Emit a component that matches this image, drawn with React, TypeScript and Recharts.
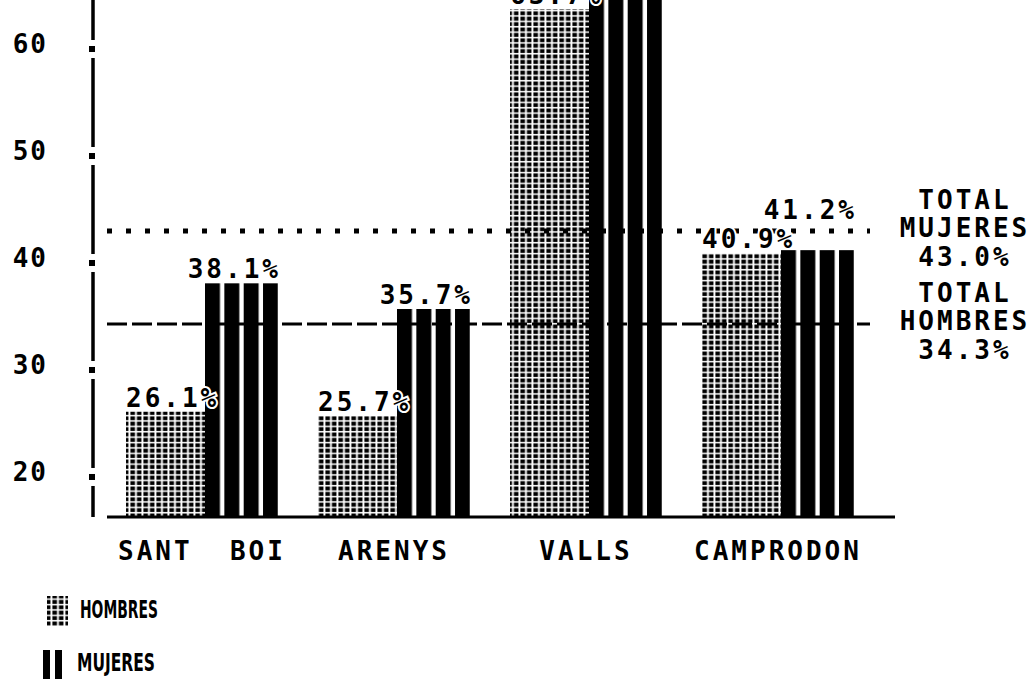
import { Bar, BarChart, Customized, LabelList, ReferenceLine, XAxis, YAxis } from "recharts";

// Old plotter-style chart: % hombres vs mujeres per town, with the two
// overall totals as reference lines. Valls runs off the top of the page.
const towns = ["SANT  BOI", "ARENYS", "VALLS", "CAMPRODON"];
const hombres = [26.1, 25.7, 63.7, 40.9];
const mujeres = [38.1, 35.7, 67.5, 41.2];
const yTicks = [20, 30, 40, 50, 60];
const yDomain = [16.26, 64.58];
const totalHombres = 34.3;
const totalMujeres = 43.0;
const legendNames = ["HOMBRES", "MUJERES"];

const data = towns.map((town, i) => ({ town, hombres: hombres[i], mujeres: mujeres[i] }));

const MONO = "'DejaVu Sans Mono', monospace";
const INK = "#000";
const pct = (v: number) => `${v.toFixed(1)}%`;

const monoText = {
  fontFamily: MONO,
  fontWeight: 700,
  fontSize: 26,
  letterSpacing: 3,
  fill: INK,
};

// white halo so value labels knock out the stripes behind them
const halo = { stroke: "#fff", strokeWidth: 4, paintOrder: "stroke" as const };

function YTick({ x, y, payload }: any) {
  // break the axis line around each tick and put a square dot there
  return (
    <g>
      <rect x={x - 5} y={y - 9} width={10} height={18} fill="#fff" />
      <rect x={x - 4} y={y - 3} width={6} height={6} fill={INK} />
      <text x={x - 45} y={y + 4} textAnchor="end" {...monoText} letterSpacing={2}>
        {payload.value}
      </text>
    </g>
  );
}

function XTick({ x, y, payload }: any) {
  return (
    <text x={x} y={y + 43} textAnchor="middle" style={{ whiteSpace: "pre" }} {...monoText}>
      {payload.value}
    </text>
  );
}

function HombresLabel({ x, y, value }: any) {
  return (
    <text x={x} y={y - 5} textAnchor="start" {...monoText} {...halo}>
      {pct(value)}
    </text>
  );
}

function MujeresLabel({ x, y, width, value, index }: any) {
  // lift the label when it would sit on top of the hombres label next door
  const clash = Math.abs(value - hombres[index]) < 2.5 ? 26 : 0;
  return (
    <text x={x + width + 3} y={y - 5 - clash} textAnchor="end" {...monoText} {...halo}>
      {pct(value)}
    </text>
  );
}

function hLine(trimLeft: number, trimRight: number) {
  return (props: any) => {
    const { x1, y1, x2, y2, stroke, strokeWidth, strokeDasharray } = props;
    return (
      <line
        x1={x1 + trimLeft}
        y1={y1}
        x2={x2 - trimRight}
        y2={y2}
        stroke={stroke}
        strokeWidth={strokeWidth}
        strokeDasharray={strokeDasharray}
      />
    );
  };
}

function totalLabel(name: string, value: number) {
  return (props: any) => {
    const vb = props.viewBox || {};
    const cx = vb.x + vb.width + 70;
    const mid = vb.y + 6;
    return (
      <g>
        <text x={cx} y={mid - 28} textAnchor="middle" {...monoText}>TOTAL</text>
        <text x={cx} y={mid} textAnchor="middle" {...monoText}>{name}</text>
        <text x={cx} y={mid + 29} textAnchor="middle" {...monoText}>{pct(value)}</text>
      </g>
    );
  };
}

function LegendBlock() {
  const legendFont = {
    fontFamily: "'DejaVu Sans', sans-serif",
    fontWeight: 700,
    fontSize: 24,
    fill: INK,
  };
  return (
    <g>
      <rect x={47} y={596} width={21} height={30} fill="url(#hombresDots)" />
      <text x={80} y={618} textLength={78} lengthAdjust="spacingAndGlyphs" {...legendFont}>
        {legendNames[0]}
      </text>
      <rect x={43} y={650} width={7} height={29} fill={INK} />
      <rect x={55} y={650} width={7} height={29} fill={INK} />
      <text x={77} y={671} textLength={78} lengthAdjust="spacingAndGlyphs" {...legendFont}>
        {legendNames[1]}
      </text>
    </g>
  );
}

// bars get an opaque white underlay so the total lines disappear behind them
function barShape(fill: string) {
  return (props: any) => {
    const { x, y, width, height } = props;
    return (
      <g>
        <rect x={x} y={y} width={width} height={height + 4} fill="#fff" />
        <rect x={x} y={y} width={width} height={height + 4} fill={fill} />
      </g>
    );
  };
}

export default function App() {
  return (
    <div style={{ position: "absolute", left: 0, top: 0, width: 1034, height: 679, background: "#fff" }}>
      <BarChart
        width={1034}
        height={679}
        data={data}
        margin={{ top: 0, right: 139, bottom: 0, left: 0 }}
        barGap={0}
      >
        <defs>
          <pattern id="hombresDots" patternUnits="userSpaceOnUse" width={6.5} height={5.4}>
            <rect x={0.4} y={0.5} width={4.6} height={3.9} fill={INK} />
          </pattern>
          <pattern
            id="mujeresStripes"
            patternUnits="objectBoundingBox"
            patternContentUnits="objectBoundingBox"
            width={0.265}
            height={1}
          >
            <rect x={0} y={0} width={0.205} height={1} fill={INK} />
          </pattern>
        </defs>
        <XAxis
          dataKey="town"
          height={162}
          padding={{ left: 13, right: 21 }}
          tickLine={false}
          tickSize={0}
          tickMargin={0}
          axisLine={false}
          tick={XTick}
          interval={0}
        />
        <YAxis
          type="number"
          width={93}
          domain={yDomain}
          allowDataOverflow
          ticks={yTicks}
          interval={0}
          tickLine={false}
          tickSize={0}
          tickMargin={0}
          axisLine={{ stroke: INK, strokeWidth: 3.5 }}
          tick={YTick}
        />
        <ReferenceLine y={yDomain[0]} stroke={INK} strokeWidth={3} shape={hLine(14, 0)} />
        <ReferenceLine
          y={totalMujeres}
          stroke={INK}
          strokeWidth={5}
          strokeDasharray="5 14"
          shape={hLine(14, 25)}
          label={totalLabel("MUJERES", totalMujeres)}
        />
        <ReferenceLine
          y={totalHombres}
          stroke={INK}
          strokeWidth={3}
          strokeDasharray="20 5"
          shape={hLine(14, 25)}
          label={totalLabel("HOMBRES", totalHombres)}
        />
        <Bar
          dataKey="hombres"
          barSize={79}
          fill="url(#hombresDots)"
          shape={barShape("url(#hombresDots)")}
          isAnimationActive={false}
        >
          <LabelList dataKey="hombres" content={HombresLabel} />
        </Bar>
        <Bar
          dataKey="mujeres"
          barSize={73}
          fill="url(#mujeresStripes)"
          shape={barShape("url(#mujeresStripes)")}
          isAnimationActive={false}
        >
          <LabelList dataKey="mujeres" content={MujeresLabel} />
        </Bar>
        <Customized component={LegendBlock} />
      </BarChart>
    </div>
  );
}
